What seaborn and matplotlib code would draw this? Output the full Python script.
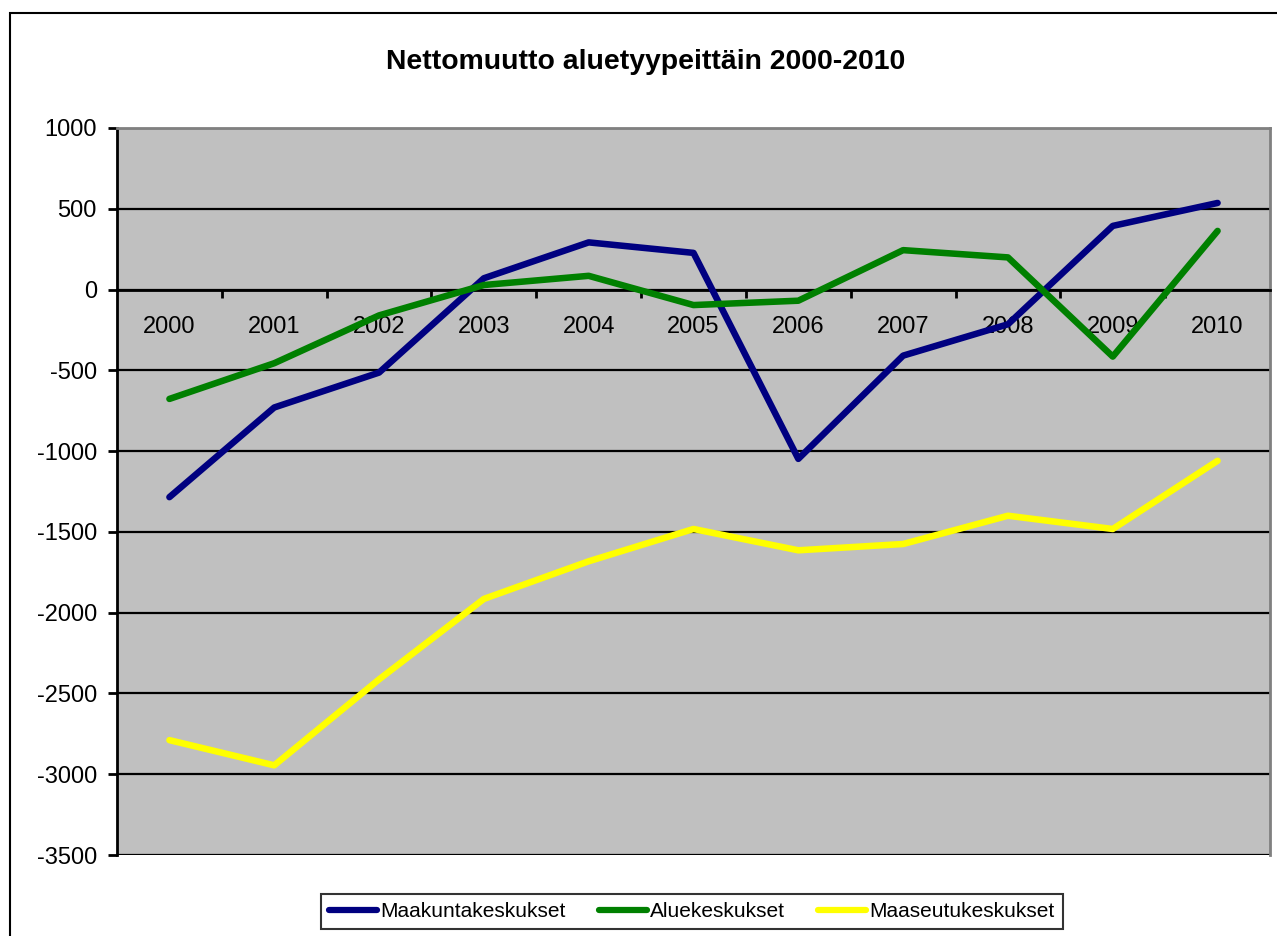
import matplotlib
matplotlib.use("Agg")
import matplotlib.pyplot as plt
from matplotlib.patches import Rectangle
import seaborn as sns
import pandas as pd
import numpy as np

years = ["2000", "2001", "2002", "2003", "2004", "2005", "2006", "2007", "2008", "2009", "2010"]
maakunta = [-1285, -730, -514, 70, 292, 227, -1048, -409, -215, 394, 536]
alue = [-677, -456, -160, 28, 85, -96, -69, 244, 199, -415, 363]
maaseutu = [-2789, -2945, -2413, -1915, -1682, -1482, -1614, -1575, -1400, -1482, -1060]
series_names = ["Maakuntakeskukset", "Aluekeskukset", "Maaseutukeskukset"]
colors = ["#000080", "#008000", "#FFFF00"]
yticks = list(range(-3500, 1001, 500))
title = "Nettomuutto aluetyypeittäin 2000-2010"

sns.set_style("white")
plt.rcParams["font.family"] = ["Liberation Sans", "DejaVu Sans"]
plt.rcParams["text.color"] = "black"
plt.rcParams["xtick.color"] = "black"
plt.rcParams["ytick.color"] = "black"
plt.rcParams["xtick.labelcolor"] = "black"
plt.rcParams["ytick.labelcolor"] = "black"

rows = []
for name, vals in zip(series_names, [maakunta, alue, maaseutu]):
    for i, v in enumerate(vals):
        rows.append({"idx": i, "value": v, "series": name})
df = pd.DataFrame(rows)

fig = plt.figure(figsize=(12.77, 9.36), dpi=100)
ax = fig.add_axes([117/1277, 1-855/936, (1270-117)/1277, (855-128)/936])
ax.set_facecolor("#C0C0C0")

for y in yticks:
    ax.axhline(y, color="black", lw=1.6, zorder=1)

sns.lineplot(data=df, x="idx", y="value", hue="series", palette=colors,
             hue_order=series_names, lw=4.7, ax=ax, legend=False, zorder=3,
             solid_capstyle="round")

ax.set_xlim(-0.5, 10.5)
ax.set_ylim(-3500, 1000)
ax.set_yticks(yticks)
ax.set_yticklabels([str(t) for t in yticks], fontsize=17)
ax.tick_params(axis="y", direction="out", length=6.5, width=2, color="black", pad=8, left=True)

ax.spines["bottom"].set_position(("data", 0))
ax.spines["bottom"].set_linewidth(2)
ax.spines["bottom"].set_color("black")
ax.set_xticks(np.arange(0.5, 10.5, 1.0))
ax.set_xticklabels([])
ax.tick_params(axis="x", which="major", direction="out", length=6, width=2, color="black", bottom=True)
ax.set_xticks(np.arange(len(years)), minor=True)
ax.set_xticklabels(years, minor=True, fontsize=17)
ax.tick_params(axis="x", which="minor", length=0, pad=19)

ax.spines["left"].set_linewidth(2)
ax.spines["left"].set_color("black")
for s in ["top", "right"]:
    ax.spines[s].set_color("#808080")
    ax.spines[s].set_linewidth(2)
ax.set_xlabel("")
ax.set_ylabel("")

fig.text(646/1277, 1-62/936, title, ha="center", va="center", fontsize=20.4,
         fontweight="bold", color="black")

handles = [plt.Line2D([0], [0], color=c, lw=4.5, solid_capstyle="round") for c in colors]
leg = fig.legend(handles, series_names, loc="center", bbox_to_anchor=(692/1277, 1-911.5/936),
                 ncol=3, fontsize=15, frameon=True, fancybox=False, edgecolor="black",
                 handlelength=2.3, handletextpad=0.15, columnspacing=1.6, borderpad=0.4)
leg.get_frame().set_linewidth(1.5)

fig.patches.append(Rectangle((10/1277, -0.1), 1.2, 1-13/936 + 0.1, transform=fig.transFigure,
                             fill=False, edgecolor="black", lw=1.5, clip_on=False))

fig.savefig("out.png", dpi=100, facecolor="white")
